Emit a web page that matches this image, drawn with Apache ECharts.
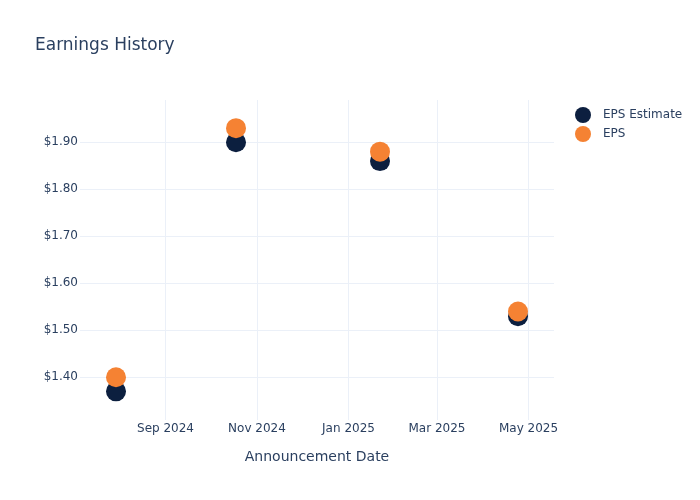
<!DOCTYPE html>
<html>
<head>
<meta charset="utf-8">
<script src="https://cdn.jsdelivr.net/npm/echarts@6/dist/echarts.min.js"></script>
<style>html,body{margin:0;padding:0;background:#fff}#c{width:700px;height:500px}</style>
</head>
<body>
<div id="c"></div>
<script>
const dates = ['2024-07-30', '2024-10-18', '2025-01-22', '2025-04-24'];
const epsEstimate = [1.37, 1.90, 1.86, 1.53];
const eps = [1.40, 1.93, 1.88, 1.54];
const xTicks = ['2024-09-01', '2024-11-01', '2025-01-01', '2025-03-01', '2025-05-01'];
const yTicks = [1.40, 1.50, 1.60, 1.70, 1.80, 1.90];
const xRange = ['2024-07-06', '2025-05-18'];
const yRange = [1.309, 1.99];
const monthNames = ['Jan','Feb','Mar','Apr','May','Jun','Jul','Aug','Sep','Oct','Nov','Dec'];

function ts(s) { const p = s.split('-').map(Number); return Date.UTC(p[0], p[1] - 1, p[2]); }

const textColor = '#2a3f5f';
const gridColor = '#ebf0f8';
const font = 'DejaVu Sans';

const chart = echarts.init(document.getElementById('c'));
chart.setOption({
  animation: false,
  backgroundColor: '#fff',
  title: {
    text: 'Earnings History',
    left: 30, top: 32,
    textStyle: { fontFamily: font, fontSize: 17, fontWeight: 'normal', color: textColor }
  },
  legend: {
    orient: 'vertical',
    left: 570, top: 102,
    itemWidth: 16, itemHeight: 16, itemGap: 3,
    icon: 'circle',
    textStyle: { fontFamily: font, fontSize: 12, color: textColor, padding: [0, 0, 0, 7] },
    data: ['EPS Estimate', 'EPS']
  },
  grid: { left: 80, right: 146, top: 100, bottom: 80, containLabel: false },
  xAxis: {
    type: 'value',
    min: ts(xRange[0]), max: ts(xRange[1]),
    name: 'Announcement Date',
    nameLocation: 'middle', nameGap: 30,
    nameTextStyle: { fontFamily: font, fontSize: 14, color: textColor },
    axisLine: { show: false },
    axisTick: { show: false, customValues: xTicks.map(ts) },
    axisLabel: {
      customValues: xTicks.map(ts),
      fontFamily: font, fontSize: 12, color: textColor, margin: 3,
      formatter: function (v) { const d = new Date(v); return monthNames[d.getUTCMonth()] + ' ' + d.getUTCFullYear(); }
    },
    splitLine: { show: true, lineStyle: { color: gridColor, width: 1 } }
  },
  yAxis: {
    type: 'value',
    min: yRange[0], max: yRange[1],
    axisLine: { show: false },
    axisTick: { show: false, customValues: yTicks },
    axisLabel: {
      customValues: yTicks,
      fontFamily: font, fontSize: 12, color: textColor, margin: 2,
      padding: [4, 0, 0, 0],
      formatter: function (v) { return '$' + v.toFixed(2); }
    },
    splitLine: { show: true, lineStyle: { color: gridColor, width: 1 } }
  },
  series: [
    {
      name: 'EPS Estimate', type: 'scatter', symbolSize: 20,
      itemStyle: { color: '#0c1f3f', opacity: 1 },
      data: dates.map((d, i) => [ts(d), epsEstimate[i]])
    },
    {
      name: 'EPS', type: 'scatter', symbolSize: 20,
      itemStyle: { color: '#f58233', opacity: 1 },
      data: dates.map((d, i) => [ts(d), eps[i]])
    }
  ]
});
</script>
</body>
</html>
